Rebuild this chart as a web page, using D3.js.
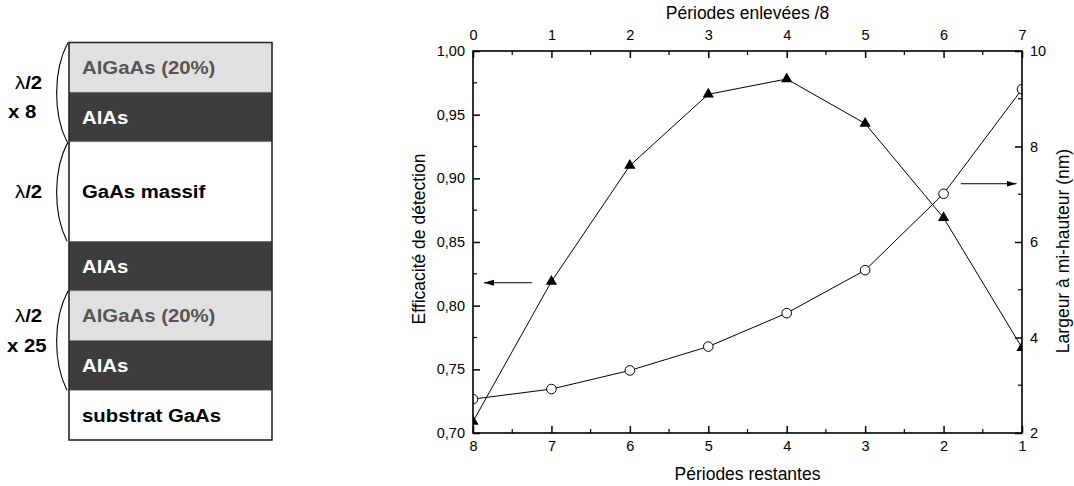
<!DOCTYPE html>
<html>
<head>
<meta charset="utf-8">
<script src="https://cdn.jsdelivr.net/npm/d3@7"></script>
<style>
  html, body { margin: 0; padding: 0; background: #fff; }
  svg { display: block; }
  text { font-family: "Liberation Sans", Arial, sans-serif; }
</style>
</head>
<body>
<svg id="chart" width="1074" height="486"></svg>
<script>
// ---------- Data ----------
const periodesEnlevees = [0, 1, 2, 3, 4, 5, 6, 7];
const periodesRestantes = [8, 7, 6, 5, 4, 3, 2, 1];
const efficacite = [0.709, 0.819, 0.910, 0.966, 0.978, 0.943, 0.869, 0.767];
const largeur = [2.71, 2.92, 3.31, 3.81, 4.51, 5.41, 7.01, 9.20];

const leftTicks = [0.70, 0.75, 0.80, 0.85, 0.90, 0.95, 1.00];
const rightTicks = [2, 4, 6, 8, 10];

// arrows (data coords: x in "périodes enlevées", y in own axis units)
const arrowLeft = { x1: 0.75, x0: 0.14, y: 0.818 };   // points to left axis
const arrowRight = { x0: 6.22, x1: 6.93, y: 7.22 };   // points to right axis

// layer structure
const layerNames = ["AlGaAs (20%)", "AlAs", "GaAs massif", "AlAs", "AlGaAs (20%)", "AlAs", "substrat GaAs"];
const layerUnits = [1, 1, 2, 1, 1, 1, 1];
const layerKinds = ["light", "dark", "white", "dark", "light", "dark", "white"];
const braceFrom = [0, 2, 4];
const braceTo = [1, 2, 5];
const braceCounts = ["x 8", null, "x 25"];

// ---------- Setup ----------
const svg = d3.select("#chart");
const fill = { light: "#e0e0e0", dark: "#3d3d3d", white: "#ffffff" };
const textFill = { light: "#555555", dark: "#ffffff", white: "#000000" };
// label offsets relative to brace centre (layout only)
const lambdaOffset = [-10, 0, -25];
const countOffset = [19, 0, 5];

// ---------- Left diagram ----------
const cum = [0];
layerUnits.forEach((u, i) => cum.push(cum[i] + u));
const dy = d3.scaleLinear().domain([0, cum[cum.length - 1]]).range([42.5, 440]);
const boxX0 = 69, boxX1 = 272;

const dg = svg.append("g");
dg.selectAll("rect.layer").data(layerNames).join("rect")
  .attr("class", "layer")
  .attr("x", boxX0).attr("width", boxX1 - boxX0)
  .attr("y", (d, i) => dy(cum[i]))
  .attr("height", (d, i) => dy(cum[i + 1]) - dy(cum[i]))
  .attr("fill", (d, i) => fill[layerKinds[i]])
  .attr("stroke", "#888").attr("stroke-width", 0.5);

dg.append("rect").attr("x", boxX0).attr("y", dy(0))
  .attr("width", boxX1 - boxX0).attr("height", dy(cum[cum.length - 1]) - dy(0))
  .attr("fill", "none").attr("stroke", "#222").attr("stroke-width", 1.5);

dg.selectAll("text.layer").data(layerNames).join("text")
  .attr("class", "layer")
  .attr("transform", (d, i) => `translate(82,${(dy(cum[i]) + dy(cum[i + 1])) / 2}) scale(1.1,1)`)
  .attr("dy", "0.36em")
  .attr("font-size", 18.5).attr("font-weight", "bold")
  .attr("fill", (d, i) => textFill[layerKinds[i]])
  .text(d => d);

// braces
braceFrom.forEach((f, k) => {
  const y0 = dy(cum[f]), y1 = dy(cum[braceTo[k] + 1]);
  const h = y1 - y0;
  const xr = 68, xl = 53;
  dg.append("path")
    .attr("d", `M${xr},${y0} C${xl},${y0 + h * 0.28} ${xl},${y1 - h * 0.28} ${xr - 1},${y1}`)
    .attr("fill", "none").attr("stroke", "#000").attr("stroke-width", 1.1);
  const yc = (y0 + y1) / 2;
  const lt = dg.append("text")
    .attr("transform", `translate(15,${yc + lambdaOffset[k]}) scale(1.1,1)`)
    .attr("dy", "0.36em").attr("font-size", 18.5).attr("fill", "#000");
  lt.append("tspan").attr("font-weight", "normal").text("λ");
  lt.append("tspan").attr("font-weight", "bold").text("/2");
  if (braceCounts[k]) {
    dg.append("text")
      .attr("transform", `translate(${braceCounts[k].length > 3 ? 7 : 8},${yc + countOffset[k]}) scale(1.1,1)`)
      .attr("dy", "0.36em")
      .attr("font-size", 18.5).attr("font-weight", "bold").attr("fill", "#000")
      .text(braceCounts[k]);
  }
});

// ---------- Chart ----------
const X0 = 473, X1 = 1022, Y0 = 51, Y1 = 433;
const xTop = d3.scaleLinear().domain([0, 7]).range([X0, X1]);
const xBot = d3.scaleLinear().domain([8, 1]).range([X0, X1]);
const yL = d3.scaleLinear().domain([0.70, 1.00]).range([Y1, Y0]);
const yR = d3.scaleLinear().domain([2, 10]).range([Y1, Y0]);

const fmt2 = d => d3.format(".2f")(d).replace(".", ",");
const MAJ = 7, MIN = 4;

function styleAxis(g) {
  g.select(".domain").remove();
  g.selectAll(".tick line").attr("stroke", "#000").attr("stroke-width", 1.5);
  g.selectAll(".tick text").attr("font-size", 14.5).attr("fill", "#000")
    .attr("font-family", "Liberation Sans, Arial, sans-serif");
}

svg.append("g").attr("transform", `translate(${X0},0)`)
  .call(d3.axisLeft(yL).tickValues(leftTicks).tickFormat(fmt2).tickSize(-MAJ).tickPadding(8))
  .call(styleAxis);
svg.append("g").attr("transform", `translate(${X1},0)`)
  .call(d3.axisRight(yR).tickValues(rightTicks).tickFormat(d3.format("d")).tickSize(-MAJ).tickPadding(8))
  .call(styleAxis);
svg.append("g").attr("transform", `translate(0,${Y1})`)
  .call(d3.axisBottom(xBot).tickValues(periodesRestantes).tickFormat(d3.format("d")).tickSize(-MAJ).tickPadding(8))
  .call(styleAxis);
svg.append("g").attr("transform", `translate(0,${Y0})`)
  .call(d3.axisTop(xTop).tickValues(periodesEnlevees).tickFormat(d3.format("d")).tickSize(-MAJ).tickPadding(11))
  .call(styleAxis);

// minor ticks
const minor = svg.append("g").attr("stroke", "#000").attr("stroke-width", 1.2);
d3.range(0.725, 1.0, 0.05).forEach(v => {
  minor.append("line").attr("x1", X0).attr("x2", X0 + MIN).attr("y1", yL(v)).attr("y2", yL(v));
});
d3.range(3, 10, 2).forEach(v => {
  minor.append("line").attr("x1", X1).attr("x2", X1 - MIN).attr("y1", yR(v)).attr("y2", yR(v));
});
d3.range(0.5, 7, 1).forEach(v => {
  minor.append("line").attr("x1", xTop(v)).attr("x2", xTop(v)).attr("y1", Y1).attr("y2", Y1 - MIN);
  minor.append("line").attr("x1", xTop(v)).attr("x2", xTop(v)).attr("y1", Y0).attr("y2", Y0 + MIN);
});

// clip
svg.append("defs").append("clipPath").attr("id", "plotclip")
  .append("rect").attr("x", X0).attr("y", Y0).attr("width", X1 - X0).attr("height", Y1 - Y0);

const plot = svg.append("g").attr("clip-path", "url(#plotclip)");

// series lines
const lineL = d3.line().x((d, i) => xTop(periodesEnlevees[i])).y(d => yL(d));
const lineR = d3.line().x((d, i) => xTop(periodesEnlevees[i])).y(d => yR(d));
plot.append("path").attr("d", lineL(efficacite)).attr("fill", "none").attr("stroke", "#000").attr("stroke-width", 1);
plot.append("path").attr("d", lineR(largeur)).attr("fill", "none").attr("stroke", "#000").attr("stroke-width", 1);

// markers
const tri = d3.symbol().type(d3.symbolTriangle).size(55);
plot.selectAll("path.tri").data(efficacite).join("path")
  .attr("class", "tri")
  .attr("transform", (d, i) => `translate(${xTop(periodesEnlevees[i])},${yL(d)})`)
  .attr("d", tri).attr("fill", "#000");
plot.selectAll("circle.pt").data(largeur).join("circle")
  .attr("class", "pt")
  .attr("cx", (d, i) => xTop(periodesEnlevees[i])).attr("cy", d => yR(d))
  .attr("r", 4.8).attr("fill", "#fff").attr("stroke", "#000").attr("stroke-width", 1);

// frame
svg.append("rect").attr("x", X0).attr("y", Y0).attr("width", X1 - X0).attr("height", Y1 - Y0)
  .attr("fill", "none").attr("stroke", "#000").attr("stroke-width", 1.6);

// arrows
const defs = svg.select("defs");
defs.append("marker").attr("id", "ah").attr("viewBox", "0 0 10 10")
  .attr("refX", 10).attr("refY", 5).attr("markerWidth", 10).attr("markerHeight", 10)
  .attr("markerUnits", "userSpaceOnUse").attr("orient", "auto")
  .append("path").attr("d", "M0,2 L10,5 L0,8 Z").attr("fill", "#000");
svg.append("line")
  .attr("x1", xTop(arrowLeft.x1)).attr("x2", xTop(arrowLeft.x0))
  .attr("y1", yL(arrowLeft.y)).attr("y2", yL(arrowLeft.y))
  .attr("stroke", "#000").attr("stroke-width", 1).attr("marker-end", "url(#ah)");
svg.append("line")
  .attr("x1", xTop(arrowRight.x0)).attr("x2", xTop(arrowRight.x1))
  .attr("y1", yR(arrowRight.y)).attr("y2", yR(arrowRight.y))
  .attr("stroke", "#000").attr("stroke-width", 1).attr("marker-end", "url(#ah)");

// titles
const TS = 17.5;
svg.append("text").attr("x", (X0 + X1) / 2).attr("y", 19).attr("text-anchor", "middle")
  .attr("font-size", TS).text("Périodes enlevées /8");
svg.append("text").attr("x", (X0 + X1) / 2).attr("y", 480).attr("text-anchor", "middle")
  .attr("font-size", TS).text("Périodes restantes");
svg.append("text").attr("transform", `translate(425,239) rotate(-90)`)
  .attr("text-anchor", "middle").attr("font-size", TS).text("Efficacité de détection");
svg.append("text").attr("transform", `translate(1069,251) rotate(-90)`)
  .attr("text-anchor", "middle").attr("font-size", TS).text("Largeur à mi-hauteur (nm)");
</script>
</body>
</html>
